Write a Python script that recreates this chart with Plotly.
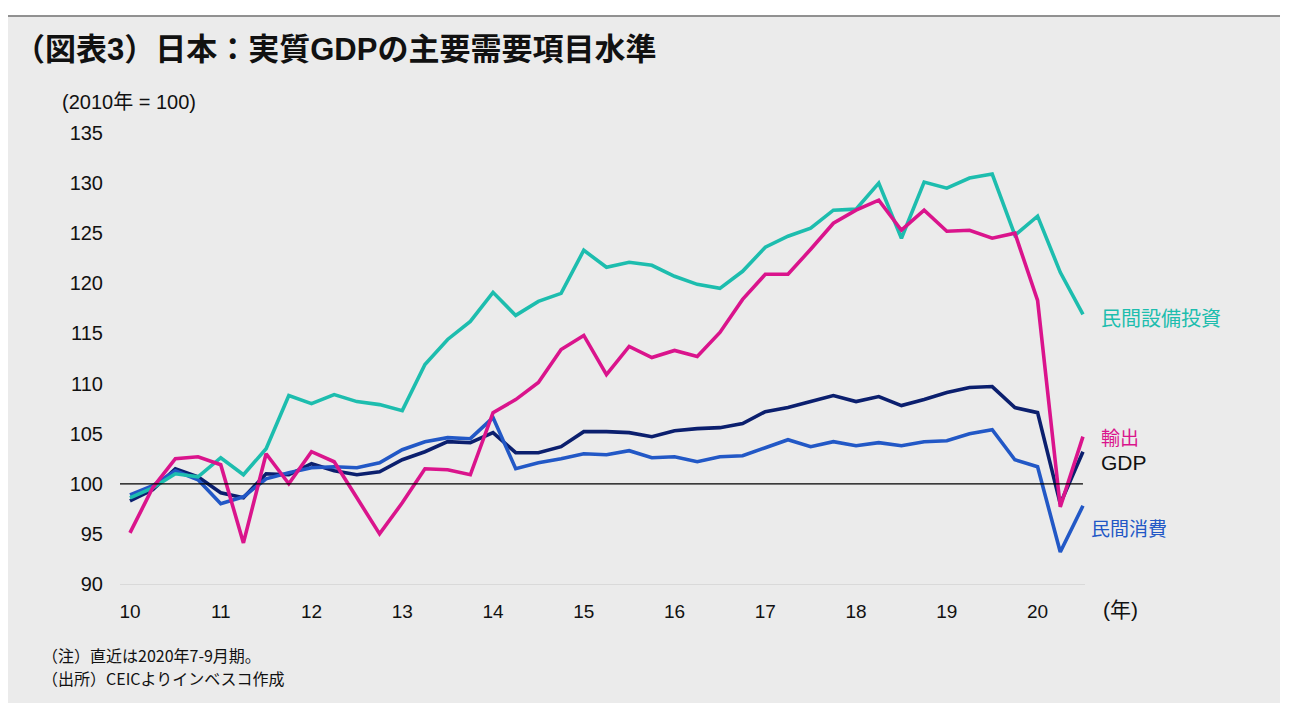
import plotly.graph_objects as go

years = ["10", "11", "12", "13", "14", "15", "16", "17", "18", "19", "20"]
quarters = list(range(43))  # 2010Q1 .. 2020Q3

gdp = [98.3, 99.4, 101.5, 100.7, 99.1, 98.6, 101.0, 100.9, 102.0, 101.3, 100.9, 101.2,
       102.4, 103.2, 104.2, 104.1, 105.1, 103.1, 103.1, 103.7, 105.2, 105.2, 105.1, 104.7,
       105.3, 105.5, 105.6, 106.0, 107.2, 107.6, 108.2, 108.8, 108.2, 108.7, 107.8, 108.4,
       109.1, 109.6, 109.7, 107.6, 107.1, 98.0, 103.2]
consumption = [98.9, 99.8, 101.3, 100.4, 98.0, 98.7, 100.5, 101.1, 101.6, 101.7, 101.6, 102.1,
               103.4, 104.2, 104.6, 104.5, 106.6, 101.5, 102.1, 102.5, 103.0, 102.9, 103.3, 102.6,
               102.7, 102.2, 102.7, 102.8, 103.6, 104.4, 103.7, 104.2, 103.8, 104.1, 103.8, 104.2,
               104.3, 105.0, 105.4, 102.4, 101.7, 93.2, 97.8]
investment = [98.6, 99.6, 101.0, 100.7, 102.6, 100.9, 103.5, 108.8, 108.0, 108.9, 108.2, 107.9,
              107.3, 111.9, 114.4, 116.2, 119.1, 116.8, 118.2, 119.0, 123.3, 121.6, 122.1, 121.8,
              120.7, 119.9, 119.5, 121.2, 123.6, 124.7, 125.5, 127.3, 127.4, 130.0, 124.5, 130.1,
              129.5, 130.5, 130.9, 124.8, 126.7, 121.1, 116.9]
exports = [95.1, 99.6, 102.5, 102.7, 101.9, 94.1, 103.0, 100.0, 103.2, 102.2, 98.6, 95.0,
           98.1, 101.5, 101.4, 100.9, 107.1, 108.4, 110.1, 113.4, 114.8, 110.9, 113.7, 112.6,
           113.3, 112.7, 115.1, 118.4, 120.9, 120.9, 123.4, 126.0, 127.3, 128.3, 125.3, 127.3,
           125.2, 125.3, 124.5, 125.0, 118.3, 97.7, 104.7]

yticks = [90, 95, 100, 105, 110, 115, 120, 125, 130, 135]

C_GDP = "#0B1F6E"
C_CONS = "#2258C6"
C_INV = "#1DBDAE"
C_EXP = "#DA148C"

FONT = "Liberation Sans, Arial, Noto Sans CJK JP, sans-serif"
CJK = "Noto Sans CJK JP, sans-serif"

fig = go.Figure()
for name, vals, col in [("GDP", gdp, C_GDP), ("民間消費", consumption, C_CONS),
                        ("民間設備投資", investment, C_INV), ("輸出", exports, C_EXP)]:
    fig.add_trace(go.Scatter(x=quarters, y=vals, mode="lines", name=name,
                             line=dict(color=col, width=3.6), hoverinfo="skip"))

# page has an 8px body margin: figure pixel = page pixel - 8
OFF = 8
FW, FH = 1295 - OFF, 720 - OFF
L, T = 120 - OFF, 133 - OFF
W, H = 965, 451
R = FW - L - W
B = FH - T - H

def px(x):
    return (x - OFF - L) / W

def py(y):
    return (FH - B - (y - OFF)) / H

shapes = [
    dict(type="rect", xref="paper", yref="paper", x0=px(8), x1=px(1280), y0=py(703), y1=py(17),
         fillcolor="#EBEBEB", line=dict(width=0), layer="below"),
    dict(type="line", xref="paper", yref="paper", x0=px(8), x1=px(1280), y0=py(16), y1=py(16),
         line=dict(color="#222222", width=1)),
    dict(type="line", xref="x", yref="y", x0=-0.44, x1=42.0, y0=100, y1=100,
         line=dict(color="#000000", width=1.2), layer="above"),
]

annotations = [
    dict(text="<b>（図表3）日本：実質GDPの主要需要項目水準</b>", xref="paper", yref="paper",
         x=px(12), y=py(50), xanchor="left", yanchor="middle", showarrow=False,
         font=dict(family=FONT, size=31, color="#111111")),
    dict(text="(2010年 = 100)", xref="paper", yref="paper", x=px(60), y=py(102),
         xanchor="left", yanchor="middle", showarrow=False,
         font=dict(family=FONT, size=20, color="#111111")),
    dict(text="(年)", xref="paper", yref="paper", x=px(1101), y=py(609),
         xanchor="left", yanchor="middle", showarrow=False,
         font=dict(family=FONT, size=21, color="#111111")),
    dict(text="（注）直近は2020年7-9月期。", xref="paper", yref="paper",
         x=px(40), y=py(655), xanchor="left", yanchor="middle", align="left", showarrow=False,
         font=dict(family=CJK, size=16, color="#111111")),
    dict(text="（出所）CEICよりインベスコ作成", xref="paper", yref="paper",
         x=px(40), y=py(678), xanchor="left", yanchor="middle", align="left", showarrow=False,
         font=dict(family=CJK, size=16, color="#111111")),
    dict(text="民間設備投資", xref="paper", yref="y", x=px(1099), y=116.6, xanchor="left",
         yanchor="middle", showarrow=False, font=dict(family=CJK, size=20, color=C_INV)),
    dict(text="輸出", xref="paper", yref="y", x=px(1099), y=104.7, xanchor="left",
         yanchor="middle", showarrow=False, font=dict(family=CJK, size=19, color=C_EXP)),
    dict(text="GDP", xref="paper", yref="y", x=px(1099), y=102.1, xanchor="left",
         yanchor="middle", showarrow=False, font=dict(family=FONT, size=21, color="#111111")),
    dict(text="民間消費", xref="paper", yref="y", x=px(1089), y=95.6, xanchor="left",
         yanchor="middle", showarrow=False, font=dict(family=CJK, size=19, color=C_CONS)),
]

fig.update_layout(
    width=FW, height=FH,
    margin=dict(l=L, r=R, t=T, b=B, autoexpand=False),
    paper_bgcolor="#FFFFFF", plot_bgcolor="rgba(0,0,0,0)",
    showlegend=False,
    shapes=shapes, annotations=annotations,
    font=dict(family=FONT, size=17, color="#111111"),
    xaxis=dict(range=[-0.44, 42.09], tickmode="array", tickvals=quarters[::4], ticktext=years,
               showgrid=False, zeroline=False, showline=True, linecolor="#D9D9D9", linewidth=1,
               ticks="", ticklabelstandoff=10, tickfont=dict(size=19)),
    yaxis=dict(range=[90, 135], tickmode="array", tickvals=yticks, showgrid=False,
               zeroline=False, showline=False, ticks="", ticklabelstandoff=16,
               tickfont=dict(size=20)),
)

fig.write_html("out.html")
